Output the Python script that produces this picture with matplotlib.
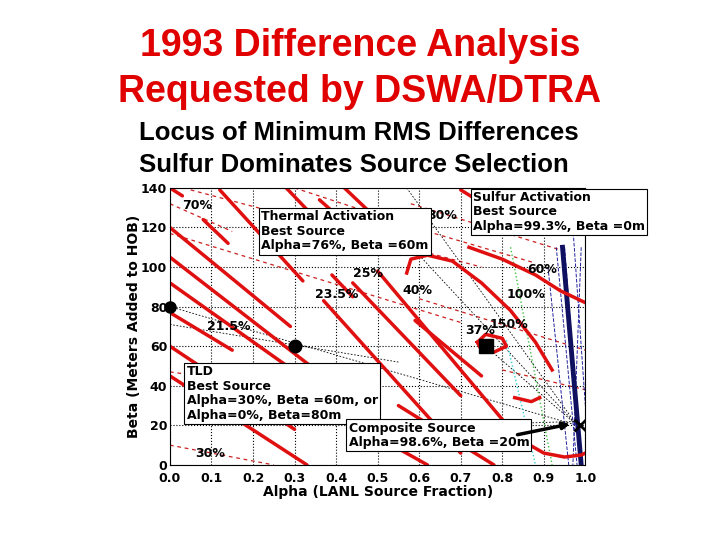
import numpy as np
import matplotlib.pyplot as plt

# thick red contour-like segments (alpha, beta) start -> end
red_segs = [
    ((0.0, 140), (0.03, 136)),
    ((0.12, 139), (0.32, 93)),
    ((0.08, 124), (0.14, 112)),
    ((0.0, 120), (0.29, 70)),
    ((0.0, 105), (0.40, 40)),
    ((0.0, 92), (0.47, 22)),
    ((0.0, 77), (0.15, 58)),
    ((0.21, 50), (0.39, 27)),
    ((0.0, 60), (0.30, 18)),
    ((0.0, 45), (0.33, 0)),
    ((0.28, 140), (0.33, 129)),
    ((0.36, 134), (0.44, 119)),
    ((0.42, 140), (0.48, 128)),
    ((0.39, 96), (0.44, 85)),
    ((0.37, 83), (0.70, 6)),
    ((0.44, 92), (0.70, 35)),
    ((0.50, 98), (0.82, 18)),
    ((0.59, 73), (0.75, 45)),
    ((0.55, 30), (0.78, 0)),
    ((0.45, 20), (0.62, 0)),
    ((0.70, 139), (0.80, 126)),
    ((0.85, 140), (0.87, 137)),
    ((0.97, 140), (0.99, 137)),
]
# curved red loops
loop_a = [0.57, 0.58, 0.62, 0.68, 0.75, 0.82, 0.88, 0.92]
loop_b = [97, 104, 106, 103, 92, 78, 62, 48]
ring_a = [0.74, 0.76, 0.80, 0.81, 0.78, 0.75, 0.74]
ring_b = [62, 66, 64, 60, 57, 58, 62]
right_a = [0.72, 0.80, 0.88, 0.94, 1.0]
right_b = [110, 104, 96, 88, 82]
bottom_a = [0.85, 0.90, 0.95, 0.99, 1.0]
bottom_b = [12, 6, 4, 5, 6]
small_a = [0.83, 0.87, 0.89]
small_b = [34, 32, 34]

# thin dashed red lines
dash_segs = [
    ((0.0, 117), (0.70, 72)),
    ((0.05, 139), (0.75, 100)),
    ((0.0, 132), (0.15, 118)),
    ((0.3, 140), (0.62, 118)),
    ((0.58, 132), (0.95, 108)),
    ((0.0, 47), (0.25, 40)),
    ((0.0, 10), (0.25, 0)),
    ((0.62, 118), (0.88, 102)),
    ((0.6, 84), (1.0, 58)),
    ((0.80, 48), (1.0, 38)),
]
# thin black dashed lines
black_segs = [
    ((0.0, 80), (0.98, 20)),
    ((0.0, 71), (0.55, 52)),
    ((0.57, 140), (0.98, 20)),
    ((0.76, 60), (0.98, 20)),
    ((0.6, 106), (0.98, 20)),
    ((0.68, 20), (0.98, 22)),
]
# blue lines near alpha=1
blue_segs = [
    ((0.95, 110), (0.99, 0)),
    ((0.93, 110), (0.98, 0)),
    ((0.97, 120), (1.0, 30)),
    ((0.91, 100), (0.96, 0)),
    ((0.99, 110), (0.97, 0)),
]

fig = plt.figure(figsize=(7.2, 5.4), dpi=100)
fig.text(0.5, 0.915, '1993 Difference Analysis', color='#e00000', fontsize=27,
         weight='bold', ha='center', va='center', family='Liberation Sans')
fig.text(0.5, 0.83, 'Requested by DSWA/DTRA', color='#e00000', fontsize=27,
         weight='bold', ha='center', va='center', family='Liberation Sans')
fig.text(0.193, 0.753, 'Locus of Minimum RMS Differences', fontsize=18.5,
         weight='bold', va='center', family='Liberation Sans')
fig.text(0.193, 0.695, 'Sulfur Dominates Source Selection', fontsize=18.5,
         weight='bold', va='center', family='Liberation Sans')

ax = fig.add_axes([0.236, 0.139, 0.577, 0.513])
ax.set_xlim(0, 1)
ax.set_ylim(0, 140)
ax.set_xticks(np.arange(0, 1.01, 0.1))
ax.set_yticks(range(0, 141, 20))
ax.grid(True, color='black', linestyle=':', linewidth=0.8)
for lab in ax.get_xticklabels() + ax.get_yticklabels():
    lab.set_fontweight('bold')
ax.tick_params(labelsize=9, length=0, pad=2)
ax.tick_params(axis='x', pad=5)
ax.set_xlabel('Alpha (LANL Source Fraction)', fontsize=10, weight='bold', labelpad=0)
ax.set_ylabel('Beta (Meters Added to HOB)', fontsize=10, weight='bold', labelpad=0)

for (x0, y0), (x1, y1) in dash_segs:
    ax.plot([x0, x1], [y0, y1], color='#cc2020', lw=0.9, ls=(0, (3, 3)))
for (x0, y0), (x1, y1) in black_segs:
    ax.plot([x0, x1], [y0, y1], color='black', lw=0.6, ls=(0, (2, 2)))
ax.plot([0.81, 0.88], [63, 0], color='#30d0d0', lw=1, ls=':')
ax.plot([0.82, 0.92], [110, 0], color='#40c040', lw=1, ls=':')
for (x0, y0), (x1, y1) in blue_segs:
    ax.plot([x0, x1], [y0, y1], color='#2020a0', lw=0.7, ls='--')
ax.plot([0.945, 0.99], [110, 0], color='#101060', lw=3.5)
for (x0, y0), (x1, y1) in red_segs:
    ax.plot([x0, x1], [y0, y1], color='#e01010', lw=2.5, solid_capstyle='round')
for xs, ys in [(loop_a, loop_b), (ring_a, ring_b), (right_a, right_b),
               (bottom_a, bottom_b), (small_a, small_b)]:
    ax.plot(xs, ys, color='#e01010', lw=2.5)

ax.plot([0.3], [60], 'o', color='black', ms=9)
ax.plot([0.76], [60], 's', color='black', ms=10)
ax.plot([0.0], [80], 'o', color='black', ms=8, clip_on=False)
ax.plot([0.986], [20], 'x', color='black', ms=9, mew=2)

pct = [(0.03, 131, '70%'), (0.62, 126, '30%'), (0.09, 70, '21.5%'), (0.35, 86, '23.5%'),
       (0.44, 97, '25%'), (0.56, 88, '40%'), (0.81, 86, '100%'), (0.86, 99, '60%'),
       (0.71, 68, '37%'), (0.77, 71, '150%'), (0.06, 6, '30%')]
for x, y, t in pct:
    ax.text(x, y, t, fontsize=9, weight='bold', va='center')

boxes = [
    (0.22, 118, 'Thermal Activation\nBest Source\nAlpha=76%, Beta =60m'),
    (0.73, 128, 'Sulfur Activation\nBest Source\nAlpha=99.3%, Beta =0m'),
    (0.04, 36, 'TLD\nBest Source\nAlpha=30%, Beta =60m, or\nAlpha=0%, Beta=80m'),
    (0.43, 15, 'Composite Source\nAlpha=98.6%, Beta =20m'),
]
for x, y, t in boxes:
    ax.text(x, y, t, fontsize=9, weight='bold', va='center', ha='left', linespacing=1.15,
            bbox=dict(facecolor='white', edgecolor='black', lw=0.8, pad=1.5), clip_on=False)
ax.annotate('', xy=(0.97, 21), xytext=(0.83, 15),
            arrowprops=dict(arrowstyle='-|>', color='black', lw=2.5))

fig.savefig('out.png', dpi=100)
